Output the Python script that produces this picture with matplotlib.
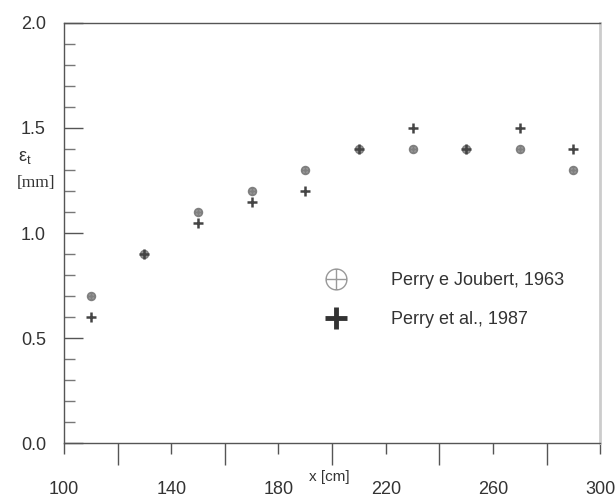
import numpy as np
import matplotlib
matplotlib.use("Agg")
import matplotlib.pyplot as plt
from matplotlib.path import Path
from matplotlib.lines import Line2D

plt.rcParams['font.family'] = ['Liberation Sans', 'DejaVu Sans']

x_pos = [110, 130, 150, 170, 190, 210, 230, 250, 270, 290]
joubert_1963 = [0.70, 0.90, 1.10, 1.20, 1.30, 1.40, 1.40, 1.40, 1.40, 1.30]
perry_1987 = [0.60, 0.90, 1.05, 1.15, 1.20, 1.40, 1.50, 1.40, 1.50, 1.40]
lab_1963 = "Perry e Joubert, 1963"
lab_1987 = "Perry et al., 1987"
x_labels = [100, 140, 180, 220, 260, 300]

# circle with a cross inside
oplus = Path.make_compound_path(
    Path.unit_circle(),
    Path([[-1, 0], [1, 0]], [Path.MOVETO, Path.LINETO]),
    Path([[0, -1], [0, 1]], [Path.MOVETO, Path.LINETO]))

fig = plt.figure(figsize=(6.15, 4.99), dpi=100)
ax = fig.add_axes([0.104, 0.112, 0.872, 0.842])

ax.plot(x_pos, joubert_1963, linestyle='none', marker=oplus, ms=5.5,
        mfc='#a0a0a0', mec='#808080', mew=1.3)
ax.plot(x_pos, perry_1987, linestyle='none', marker='+', ms=7,
        color='#444444', mew=1.8)

ax.set_xlim(100, 300)
ax.set_ylim(0, 2.0)

ax.set_xticks(x_labels)
ax.set_xticklabels([str(v) for v in x_labels])
ax.set_xticks([120, 160, 200, 240, 280], minor=True)
ax.tick_params(axis='x', which='major', direction='out', length=8, width=1,
               color='#555555', pad=19, labelsize=13, labelcolor='#333333')
ax.tick_params(axis='x', which='minor', direction='out', length=16, width=1,
               color='#555555')

ax.set_yticks([0.0, 0.5, 1.0, 1.5, 2.0])
ax.set_yticklabels(['0.0', '0.5', '1.0', '1.5', '2.0'])
ax.set_yticks(np.arange(0, 2.0, 0.1), minor=True)
ax.tick_params(axis='y', which='major', direction='in', length=14, width=1,
               color='#555555', pad=13, labelsize=13, labelcolor='#333333')
ax.tick_params(axis='y', which='minor', direction='in', length=8, width=1,
               color='#777777')

for s in ['left', 'bottom', 'top']:
    ax.spines[s].set_color('#555555')
    ax.spines[s].set_linewidth(1.0)
ax.spines['right'].set_color('#cccccc')
ax.spines['right'].set_linewidth(2.0)

fig.text(0.040, 0.685, r'ε$_\mathregular{t}$', ha='center', va='center',
         fontsize=13, color='#333333')
fig.text(0.058, 0.633, '[mm]', ha='center', va='center',
         fontsize=12.5, color='#333333', family='Liberation Serif')
ax.text(199, -0.162, 'x [cm]', ha='center', va='center', fontsize=11,
        color='#333333', clip_on=False)

handles = [
    Line2D([], [], linestyle='none', marker=oplus, ms=15, mfc='none',
           mec='#999999', mew=1.0),
    Line2D([], [], linestyle='none', marker='+', ms=16, color='#333333',
           mew=3.5),
]
ax.legend(handles, [lab_1963, lab_1987], loc='center left',
          bbox_to_anchor=(0.452, 0.34), frameon=False, fontsize=13,
          handletextpad=2.3, labelspacing=1.2, handlelength=1.5,
          labelcolor='#333333')

fig.savefig('out.png', dpi=100)
